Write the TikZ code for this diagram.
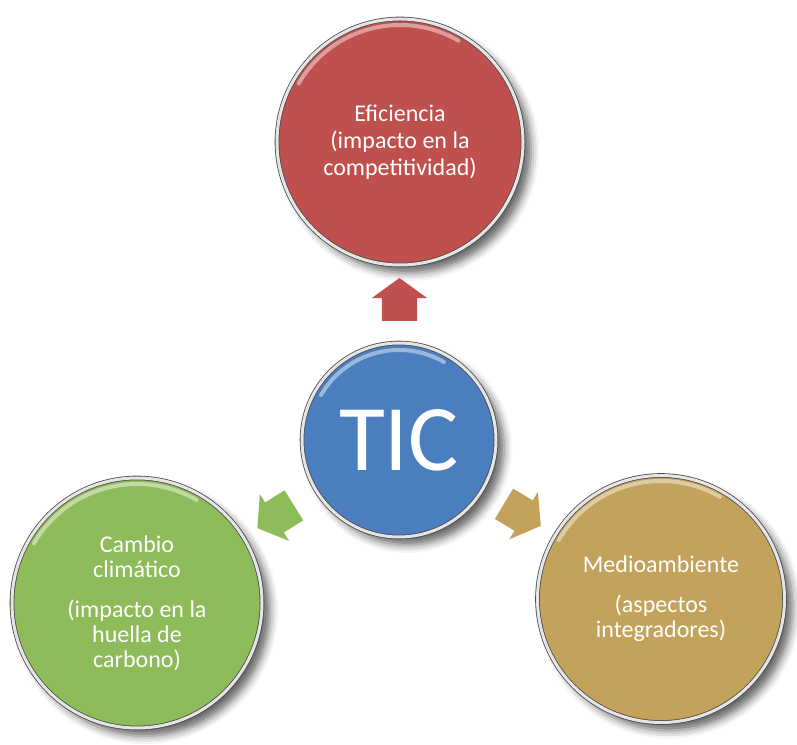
\documentclass[tikz,border=0pt]{standalone}
\usepackage{fontspec}
\setmainfont{Carlito}
\usetikzlibrary{
		calc,
		shapes.arrows,
		shadows.blur
	}
\definecolor{rojo}{HTML}{C0504D}
\definecolor{azul}{HTML}{4A7EBF}
\definecolor{verde}{HTML}{8FBC5A}
\definecolor{oro}{HTML}{C3A25B}
\tikzset{
		boton/.style={circle, inner sep=0pt, text=white, align=center,
			draw=gray!60!black, line width=0.8pt, double=gray!20, double distance=3pt,
			blur shadow={shadow xshift=8pt, shadow yshift=-8pt, shadow blur radius=8pt, shadow opacity=60}},
		flecha/.style={single arrow, draw=none, inner xsep=0pt, inner ysep=17.5pt, minimum height=43pt,
			single arrow head extend=10pt, single arrow tip angle=108},
		brillo/.style={white, opacity=.45, line width=4pt, line cap=round}
	}

\begin{document}
\begin{tikzpicture}[x=1pt, y=1pt] % (1 unit = 1 pixel of the 797x744 picture)
		\useasboundingbox (0,0) rectangle (797,744);
		\node[boton, fill=rojo, minimum size=246pt, font=\fontsize{24}{27}\selectfont] (efic) at (400,602) {Eficiencia\\(impacto en la\\competitividad)};
		\node[boton, fill=azul, minimum size=194pt, font=\fontsize{94}{94}\selectfont] (tic) at (399,304) {TIC};
		\node[boton, fill=verde, minimum size=250pt, font=\fontsize{24}{25}\selectfont] (clima) at (137,141) {Cambio\\climático\\[15pt](impacto en la\\huella de\\carbono)};
		\node[boton, fill=oro, minimum size=247pt, font=\fontsize{24}{25}\selectfont] (medio) at (661,145) {Medioambiente\\[15pt](aspectos\\integradores)};
		\foreach \n/\c/\a in {efic/rojo/90, clima/verde/212, medio/oro/-31} {
			\node[flecha, fill=\c, rotate=\a] (f\n) at ($(tic)!0.45!(\n)$) {};
		}
		\foreach \n/\r in {efic/117, tic/90, clima/119, medio/118} {
			\draw[brillo] ($(\n.center)+(150:\r)$) arc[start angle=150, end angle=60, radius=\r];
		}
	\end{tikzpicture}
\end{document}
